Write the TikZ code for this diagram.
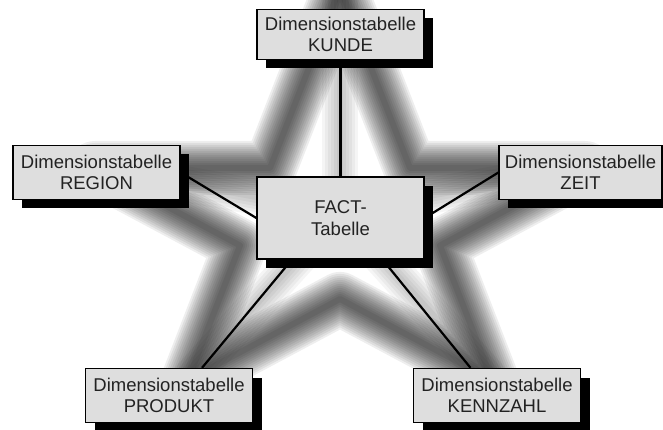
\documentclass[tikz,border=0pt]{standalone}
\usepackage{fontspec}
\setmainfont{Liberation Sans}
\usetikzlibrary{calc,backgrounds,shadows}
\definecolor{boxgray}{HTML}{DEDEDE}
\definecolor{txtgray}{HTML}{222222}
\tikzset{
  dimbox/.style={draw=black, line width=1.3pt, fill=boxgray, text=txtgray, align=center,
    inner sep=0pt, minimum width=167pt, minimum height=54pt,
    font=\fontsize{18.5}{21.5}\selectfont,
    general shadow={fill=black, shadow xshift=9pt, shadow yshift=-9pt}},
  link/.style={line width=2.2pt, draw=black},
  glow/.style={draw=black, draw opacity=0.065, line join=round},
  ridge/.style={draw=black, draw opacity=0.04, line cap=round},
}
\begin{document}
\begin{tikzpicture}[x=1pt,y=-1pt]
\useasboundingbox (0,0) rectangle (663,430);
% nodes
\node[dimbox, minimum height=50pt] (kunde) at (340.5,34.5) {Dimensionstabelle\\KUNDE};
\node[dimbox] (region) at (96.5,172.5) {Dimensionstabelle\\REGION};
\node[dimbox, minimum width=163pt] (zeit) at (580.5,172.5) {Dimensionstabelle\\ZEIT};
\node[dimbox, minimum height=82pt] (fact) at (340.5,218) {FACT-\\Tabelle};
\node[dimbox] (produkt) at (169,395.5) {Dimensionstabelle\\PRODUKT};
\node[dimbox] (kennzahl) at (497,395.5) {Dimensionstabelle\\KENNZAHL};
% star vertices
\coordinate (s1) at (340,-12);
\coordinate (s2) at (410,168);
\coordinate (s3) at (585,168);
\coordinate (s4) at (440,245.5);
\coordinate (s5) at (492,380);
\coordinate (s6) at (340,299);
\coordinate (s7) at (188,380);
\coordinate (s8) at (240,245.5);
\coordinate (s9) at (95,168);
\coordinate (s10) at (270,168);
\coordinate (sc) at (340,212);
% connector ends
\coordinate (p1) at ($(produkt.north)+(33,0)$);
\coordinate (f1) at ($(fact.south west)+(35.5,0)$);
\coordinate (k1) at ($(kennzahl.north)+(-26.5,0)$);
\coordinate (f2) at ($(fact.south east)+(-42,0)$);
\begin{scope}[on background layer]
  \fill[white] (0,0) rectangle (663,430);
  \foreach \w in {54,50,...,4} {
    \draw[glow, line width=\w pt] (s1)--(s2)--(s3)--(s4)--(s5)--(s6)--(s7)--(s8)--(s9)--(s10)--cycle;
  }
  \foreach \p in {s1,s3,s5,s7,s9} {
    \foreach \w in {36,30,...,6} {
      \draw[ridge, line width=\w pt] (sc)--(\p);
    }
  }
  \draw[link] (kunde.south) -- (fact.north);
  \draw[link] (region.east) -- (fact.west);
  \draw[link] (zeit.west) -- (fact.east);
  \draw[link] (p1) -- (f1);
  \draw[link] (k1) -- (f2);
\end{scope}
\end{tikzpicture}
\end{document}
